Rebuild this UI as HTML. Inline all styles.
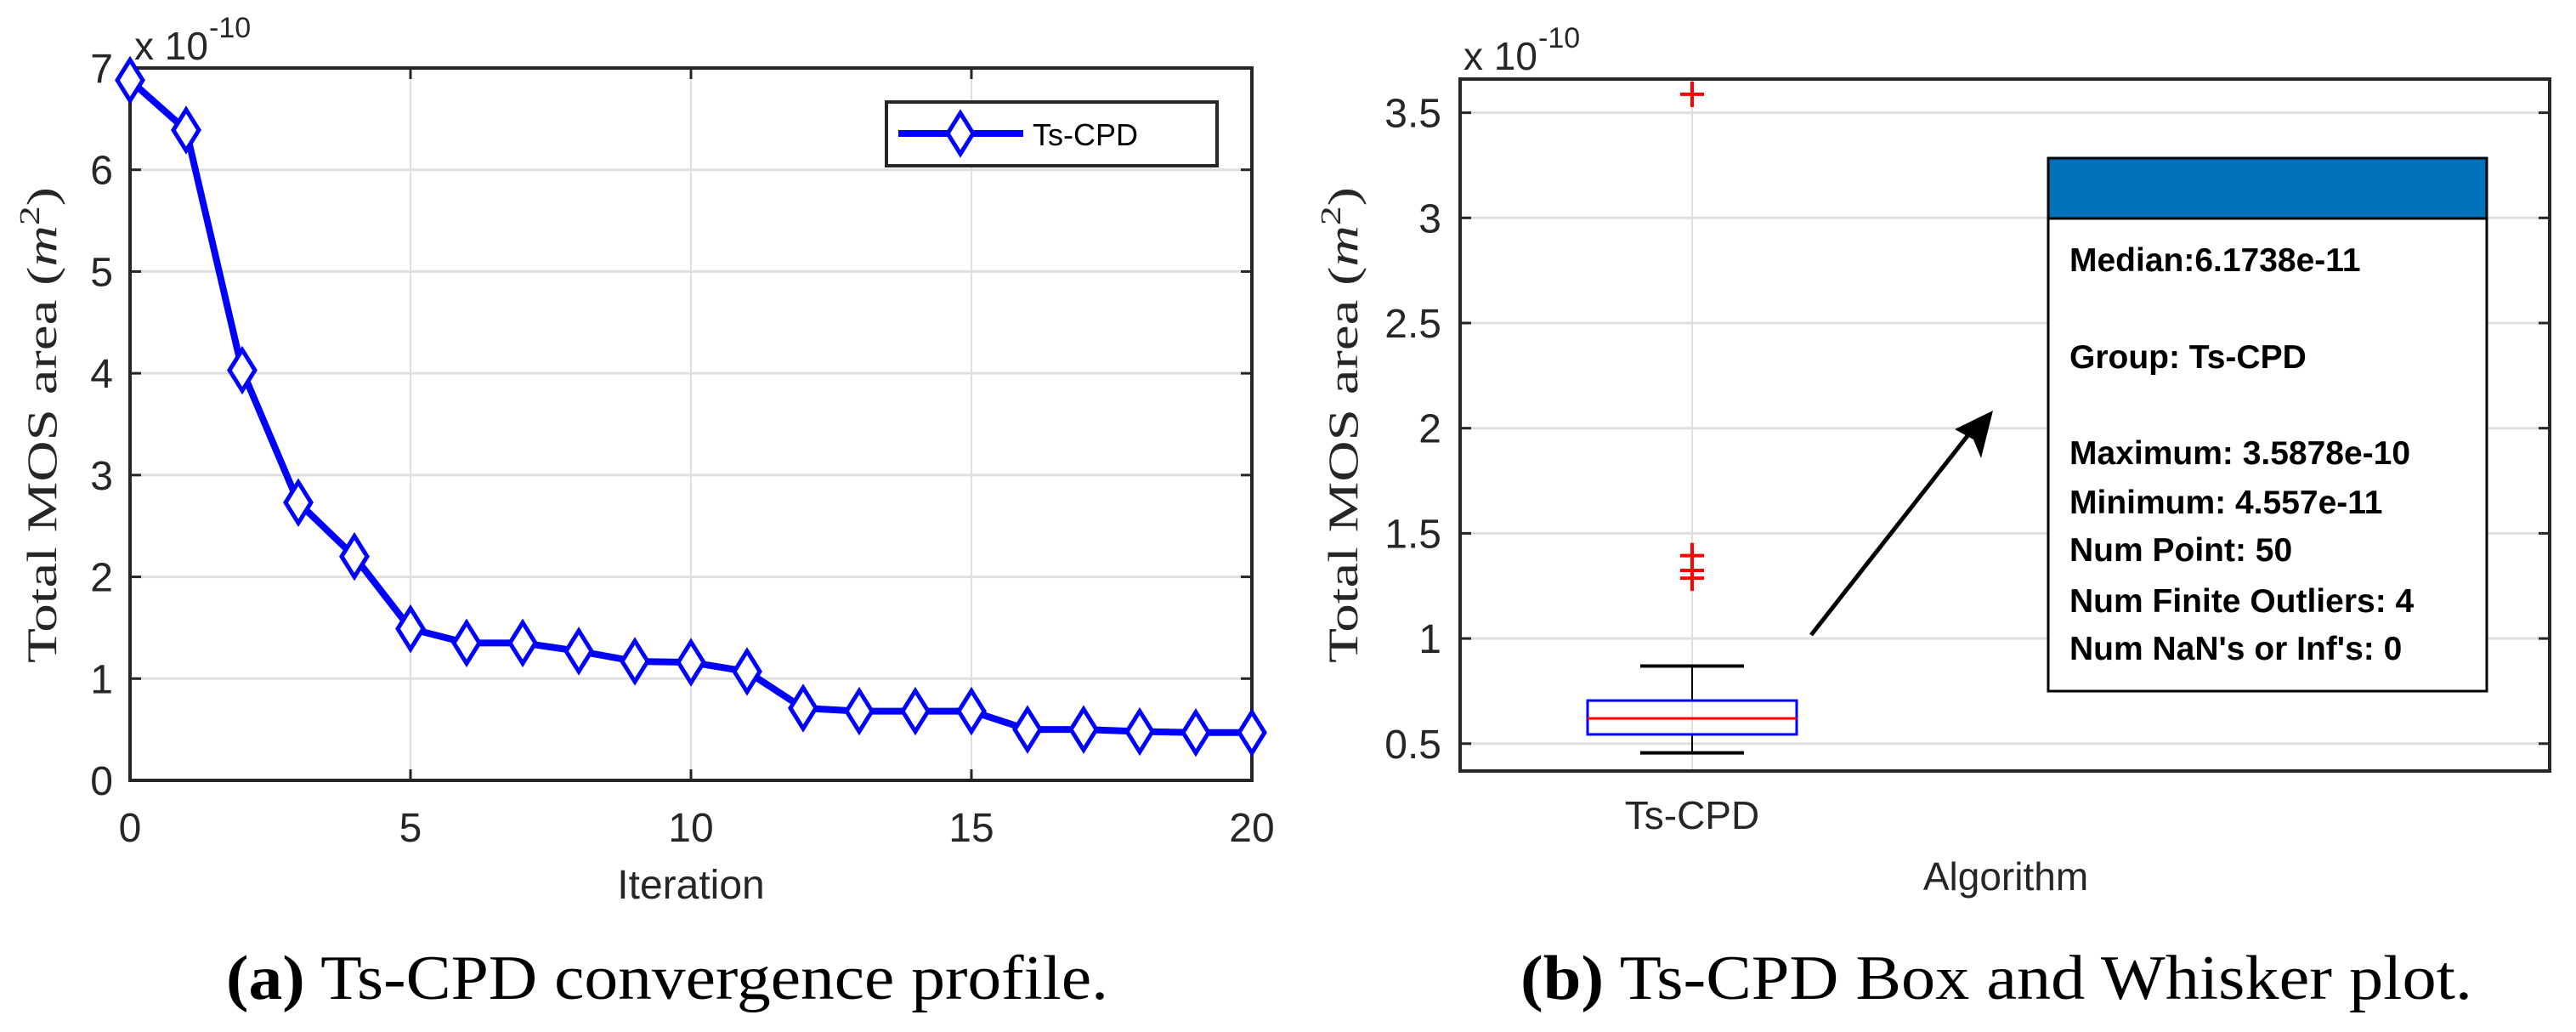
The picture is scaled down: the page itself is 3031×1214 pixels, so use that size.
<!DOCTYPE html>
<html><head><meta charset="utf-8"><style>
html,body{margin:0;padding:0;background:#fff;}
svg{display:block;}
text{font-family:"Liberation Sans",sans-serif;}
.serif{font-family:"Liberation Serif",serif;}
</style></head><body>
<svg id="fig" width="3031" height="1214" viewBox="0 0 3031 1214" xmlns="http://www.w3.org/2000/svg">
<g id="plotA"></g>
<g id="plotB"></g>
</svg>
<script>
// Panel (a) data
const iterations = [0,1,2,3,4,5,6,7,8,9,10,11,12,13,14,15,16,17,18,19,20];
const mosArea = [6.88,6.39,4.03,2.73,2.2,1.49,1.35,1.35,1.27,1.17,1.16,1.07,0.71,0.68,0.68,0.68,0.50,0.50,0.48,0.47,0.47];
const xTicksA = [0,5,10,15,20];
const yTicksA = [0,1,2,3,4,5,6,7];
// Panel (b) data
const boxCategories = ["Ts-CPD"];
const boxQ1 = [0.544];
const boxMedian = [0.62];
const boxQ3 = [0.705];
const whiskerLow = [0.456];
const whiskerHigh = [0.869];
const outliers = [1.287,1.324,1.394,3.588];
const yTicksB = [0.5,1,1.5,2,2.5,3,3.5];
const yTickLabelsB = ["0.5","1","1.5","2","2.5","3","3.5"];
const annotationLines = ["Median:6.1738e-11","Group: Ts-CPD","Maximum: 3.5878e-10","Minimum: 4.557e-11","Num Point: 50","Num Finite Outliers: 4","Num NaN's or Inf's: 0"];

const NS="http://www.w3.org/2000/svg";
function mk(parent,tag,attrs,text){const e=document.createElementNS(NS,tag);for(const k in attrs)e.setAttribute(k,attrs[k]);if(text!==undefined)e.textContent=text;parent.appendChild(e);return e;}

// ---------- Panel A ----------
const A=document.getElementById('plotA');
const aL=153,aR=1473,aT=80,aB=918;
const xA=v=>aL+(v-0)/(20-0)*(aR-aL);
const yA=v=>aB-(v-0)/(7-0)*(aB-aT);
xTicksA.forEach(t=>{
  const g=mk(A,'line',{x1:xA(t),x2:xA(t),y1:aT,y2:aB,stroke:'#dfdfdf','stroke-width':2});
  
  
});
yTicksA.forEach(t=>{
  const g=mk(A,'line',{x1:aL,x2:aR,y1:yA(t),y2:yA(t),stroke:'#dfdfdf','stroke-width':3});
  
  
});
mk(A,'rect',{x:aL,y:aT,width:aR-aL,height:aB-aT,fill:'none',stroke:'#262626','stroke-width':4,});
xTicksA.forEach(t=>{
  mk(A,'line',{x1:xA(t),x2:xA(t),y1:aB,y2:aB-13,stroke:'#262626','stroke-width':3});
  mk(A,'line',{x1:xA(t),x2:xA(t),y1:aT,y2:aT+13,stroke:'#262626','stroke-width':3});
  const l=mk(A,'text',{x:xA(t),y:990,'font-size':48,'text-anchor':'middle',fill:'#262626'},String(t));
  
  
});
yTicksA.forEach(t=>{
  mk(A,'line',{x1:aL,x2:aL+13,y1:yA(t),y2:yA(t),stroke:'#262626','stroke-width':3});
  mk(A,'line',{x1:aR,x2:aR-13,y1:yA(t),y2:yA(t),stroke:'#262626','stroke-width':3});
  const l=mk(A,'text',{x:133,y:yA(t)+17,'font-size':48,'text-anchor':'end',fill:'#262626'},String(t));
  
  
});
mk(A,'text',{x:158,y:70,'font-size':46,fill:'#262626',},'x 10');
mk(A,'text',{x:246,y:44,'font-size':34,fill:'#262626'},'-10');
mk(A,'text',{x:813,y:1057,'font-size':48,'text-anchor':'middle',fill:'#262626',},'Iteration');
const ytA=mk(A,'text',{x:0,y:0,'font-size':50,'text-anchor':'middle',fill:'#262626',class:'serif',transform:'translate(66,500) rotate(-90)',textLength:560,lengthAdjust:'spacingAndGlyphs',},'Total MOS area (');
mk(ytA,'tspan',{'font-style':'italic'},'m');
mk(ytA,'tspan',{'font-size':34,dy:-20},'2');
mk(ytA,'tspan',{dy:20},')');
// series
let pts=iterations.map((v,i)=>xA(v)+','+yA(mosArea[i])).join(' ');
const line=mk(A,'polyline',{points:pts,fill:'none',stroke:'#0000ff','stroke-width':8,'stroke-linejoin':'round'});


iterations.forEach((v,i)=>{
  const cx=xA(v),cy=yA(mosArea[i]);
  const d=mk(A,'polygon',{points:`${cx},${cy-24} ${cx+15},${cy} ${cx},${cy+24} ${cx-15},${cy}`,fill:'#fff',stroke:'#0000ff','stroke-width':5});
  
  
});
// legend
const lg=mk(A,'g',{});
mk(lg,'rect',{x:1043,y:120,width:389,height:75,fill:'#fff',stroke:'#262626','stroke-width':4});
mk(lg,'line',{x1:1057,x2:1204,y1:157,y2:157,stroke:'#0000ff','stroke-width':8});
mk(lg,'polygon',{points:'1130,133 1145,157 1130,181 1115,157',fill:'#fff',stroke:'#0000ff','stroke-width':5});
mk(lg,'text',{x:1215,y:171,'font-size':36,fill:'#000',},'Ts-CPD');
// caption
const capA=mk(A,'text',{x:785,y:1175,'font-size':74,'text-anchor':'middle',fill:'#000',class:'serif',textLength:1038,lengthAdjust:'spacingAndGlyphs',});
mk(capA,'tspan',{'font-weight':'bold'},'(a)');
mk(capA,'tspan',{},' Ts-CPD convergence profile.');

// ---------- Panel B ----------
const B=document.getElementById('plotB');
const bL=1718,bR=3000,bT=93,bB=907;
const yB=v=>874.8-(v-0.5)*247.4;
const xB=i=>1991+i*0;
mk(B,'line',{x1:1991,x2:1991,y1:bT,y2:bB,stroke:'#dfdfdf','stroke-width':2,});
yTicksB.forEach(t=>{
  const g=mk(B,'line',{x1:bL,x2:bR,y1:yB(t),y2:yB(t),stroke:'#dfdfdf','stroke-width':3});
  
  
});
mk(B,'rect',{x:bL,y:bT,width:bR-bL,height:bB-bT,fill:'none',stroke:'#262626','stroke-width':4,});
yTicksB.forEach((t,i)=>{
  mk(B,'line',{x1:bL,x2:bL+13,y1:yB(t),y2:yB(t),stroke:'#262626','stroke-width':3});
  mk(B,'line',{x1:bR,x2:bR-13,y1:yB(t),y2:yB(t),stroke:'#262626','stroke-width':3});
  const l=mk(B,'text',{x:1696,y:yB(t)+17,'font-size':48,'text-anchor':'end',fill:'#262626'},yTickLabelsB[i]);
  
  
});
mk(B,'text',{x:1722,y:82,'font-size':46,fill:'#262626',},'x 10');
mk(B,'text',{x:1810,y:56,'font-size':34,fill:'#262626'},'-10');
const ytB=mk(B,'text',{x:0,y:0,'font-size':50,'text-anchor':'middle',fill:'#262626',class:'serif',transform:'translate(1597,500) rotate(-90)',textLength:560,lengthAdjust:'spacingAndGlyphs',},'Total MOS area (');
mk(ytB,'tspan',{'font-style':'italic'},'m');
mk(ytB,'tspan',{'font-size':34,dy:-20},'2');
mk(ytB,'tspan',{dy:20},')');
boxCategories.forEach((c,i)=>{
  const cx=xB(i);
  const l=mk(B,'text',{x:cx,y:975,'font-size':46,'text-anchor':'middle',fill:'#262626'},c);
  
  
  mk(B,'line',{x1:cx,x2:cx,y1:yB(whiskerHigh[i]),y2:yB(boxQ3[i]),stroke:'#000','stroke-width':2});
  mk(B,'line',{x1:cx,x2:cx,y1:yB(boxQ1[i]),y2:yB(whiskerLow[i]),stroke:'#000','stroke-width':2});
  mk(B,'line',{x1:cx-61,x2:cx+61,y1:yB(whiskerHigh[i]),y2:yB(whiskerHigh[i]),stroke:'#000','stroke-width':4,});
  mk(B,'line',{x1:cx-61,x2:cx+61,y1:yB(whiskerLow[i]),y2:yB(whiskerLow[i]),stroke:'#000','stroke-width':4,});
  const bx=mk(B,'rect',{x:cx-123,y:yB(boxQ3[i]),width:246,height:yB(boxQ1[i])-yB(boxQ3[i]),fill:'none',stroke:'#0000ff','stroke-width':3});
  
  
  mk(B,'line',{x1:cx-123,x2:cx+123,y1:yB(boxMedian[i]),y2:yB(boxMedian[i]),stroke:'#ff0000','stroke-width':3,});
});
outliers.forEach(v=>{
  const cx=xB(0),cy=yB(v);
  const g=mk(B,'path',{d:`M${cx-14},${cy}H${cx+14}M${cx},${cy-15}V${cy+15}`,stroke:'#ff0000','stroke-width':4,fill:'none'});
  
  
});
mk(B,'text',{x:2360,y:1047,'font-size':46,'text-anchor':'middle',fill:'#262626',},'Algorithm');
// arrow
mk(B,'line',{x1:2131,x2:2325,y1:747,y2:500,stroke:'#000','stroke-width':5,});
mk(B,'polygon',{points:'2345,483 2331,539 2322,517 2300,505',fill:'#000'});
// annotation box
const ab=mk(B,'g',{});
mk(ab,'rect',{x:2410,y:186,width:516,height:627,fill:'#fff',stroke:'#000','stroke-width':3});
mk(ab,'rect',{x:2410,y:186,width:516,height:71,fill:'#0072bb',stroke:'#000','stroke-width':3});
const lineY=[319,433,546,604,660,720,776];
annotationLines.forEach((s,i)=>{
  const t=mk(ab,'text',{x:2435,y:lineY[i],'font-size':39,'font-weight':'bold',fill:'#000'},s);
  
  
});
const capB=mk(B,'text',{x:2349,y:1175,'font-size':74,'text-anchor':'middle',fill:'#000',class:'serif',textLength:1120,lengthAdjust:'spacingAndGlyphs',});
mk(capB,'tspan',{'font-weight':'bold'},'(b)');
mk(capB,'tspan',{},' Ts-CPD Box and Whisker plot.');
</script>
</body></html>
